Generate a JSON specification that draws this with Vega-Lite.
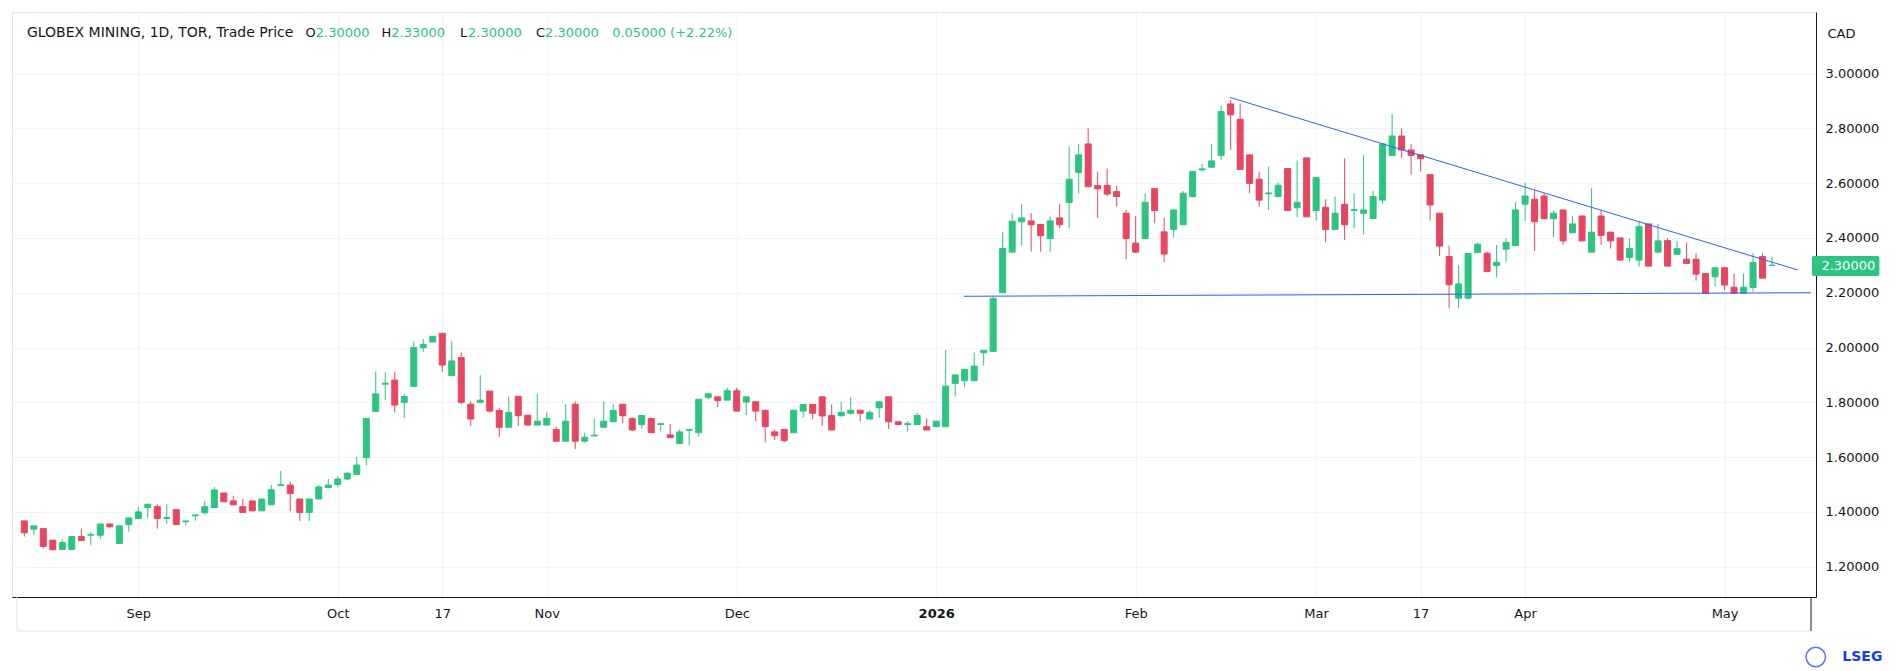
{
  "$schema": "https://vega.github.io/schema/vega-lite/v6.json",
  "width": 1804,
  "height": 585,
  "autosize": {"type": "none"},
  "padding": {"left": 12, "top": 12, "right": 87, "bottom": 74},
  "background": "#ffffff",
  "config": {
    "font": "DejaVu Sans",
    "view": {"stroke": "#e0e3eb"},
    "axis": {"labelFont": "DejaVu Sans", "labelFontSize": 13, "labelColor": "#131722", "gridColor": "#f0f3fa", "gridWidth": 1, "domainColor": "#131722", "ticks": false, "title": null}
  },
  "datasets": {
    "ohlc": [
      {"i":0,"o":1.367,"h":1.367,"l":1.310,"c":1.324},
      {"i":1,"o":1.337,"h":1.349,"l":1.316,"c":1.349},
      {"i":2,"o":1.339,"h":1.339,"l":1.267,"c":1.274},
      {"i":3,"o":1.297,"h":1.297,"l":1.260,"c":1.262},
      {"i":4,"o":1.263,"h":1.300,"l":1.262,"c":1.288},
      {"i":5,"o":1.263,"h":1.310,"l":1.263,"c":1.310},
      {"i":6,"o":1.310,"h":1.339,"l":1.296,"c":1.296},
      {"i":7,"o":1.315,"h":1.327,"l":1.278,"c":1.318},
      {"i":8,"o":1.315,"h":1.356,"l":1.300,"c":1.356},
      {"i":9,"o":1.356,"h":1.356,"l":1.340,"c":1.346},
      {"i":10,"o":1.285,"h":1.349,"l":1.285,"c":1.349},
      {"i":11,"o":1.354,"h":1.378,"l":1.328,"c":1.378},
      {"i":12,"o":1.376,"h":1.419,"l":1.376,"c":1.400},
      {"i":13,"o":1.416,"h":1.428,"l":1.378,"c":1.428},
      {"i":14,"o":1.419,"h":1.428,"l":1.339,"c":1.376},
      {"i":15,"o":1.376,"h":1.428,"l":1.357,"c":1.380},
      {"i":16,"o":1.408,"h":1.408,"l":1.354,"c":1.354},
      {"i":17,"o":1.364,"h":1.367,"l":1.351,"c":1.367},
      {"i":18,"o":1.386,"h":1.389,"l":1.368,"c":1.389},
      {"i":19,"o":1.397,"h":1.441,"l":1.390,"c":1.419},
      {"i":20,"o":1.416,"h":1.491,"l":1.416,"c":1.480},
      {"i":21,"o":1.469,"h":1.469,"l":1.437,"c":1.437},
      {"i":22,"o":1.440,"h":1.459,"l":1.426,"c":1.426},
      {"i":23,"o":1.419,"h":1.447,"l":1.398,"c":1.398},
      {"i":24,"o":1.440,"h":1.440,"l":1.402,"c":1.404},
      {"i":25,"o":1.404,"h":1.447,"l":1.404,"c":1.447},
      {"i":26,"o":1.426,"h":1.498,"l":1.426,"c":1.481},
      {"i":27,"o":1.496,"h":1.550,"l":1.496,"c":1.499},
      {"i":28,"o":1.498,"h":1.511,"l":1.402,"c":1.467},
      {"i":29,"o":1.447,"h":1.447,"l":1.367,"c":1.398},
      {"i":30,"o":1.398,"h":1.447,"l":1.367,"c":1.447},
      {"i":31,"o":1.447,"h":1.498,"l":1.447,"c":1.491},
      {"i":32,"o":1.489,"h":1.520,"l":1.489,"c":1.498},
      {"i":33,"o":1.500,"h":1.530,"l":1.490,"c":1.520},
      {"i":34,"o":1.520,"h":1.545,"l":1.515,"c":1.541},
      {"i":35,"o":1.537,"h":1.601,"l":1.535,"c":1.571},
      {"i":36,"o":1.598,"h":1.741,"l":1.571,"c":1.741},
      {"i":37,"o":1.767,"h":1.912,"l":1.767,"c":1.831},
      {"i":38,"o":1.866,"h":1.912,"l":1.808,"c":1.870},
      {"i":39,"o":1.881,"h":1.912,"l":1.763,"c":1.790},
      {"i":40,"o":1.800,"h":1.831,"l":1.742,"c":1.821},
      {"i":41,"o":1.858,"h":2.023,"l":1.858,"c":2.000},
      {"i":42,"o":1.999,"h":2.031,"l":1.984,"c":2.011},
      {"i":43,"o":2.020,"h":2.041,"l":2.020,"c":2.041},
      {"i":44,"o":2.052,"h":2.052,"l":1.911,"c":1.936},
      {"i":45,"o":1.897,"h":2.023,"l":1.897,"c":1.951},
      {"i":46,"o":1.963,"h":1.982,"l":1.793,"c":1.800},
      {"i":47,"o":1.793,"h":1.803,"l":1.714,"c":1.739},
      {"i":48,"o":1.800,"h":1.899,"l":1.800,"c":1.808},
      {"i":49,"o":1.841,"h":1.841,"l":1.763,"c":1.768},
      {"i":50,"o":1.770,"h":1.780,"l":1.674,"c":1.709},
      {"i":51,"o":1.709,"h":1.821,"l":1.709,"c":1.763},
      {"i":52,"o":1.822,"h":1.822,"l":1.714,"c":1.751},
      {"i":53,"o":1.753,"h":1.753,"l":1.714,"c":1.717},
      {"i":54,"o":1.717,"h":1.831,"l":1.717,"c":1.731},
      {"i":55,"o":1.717,"h":1.763,"l":1.717,"c":1.741},
      {"i":56,"o":1.701,"h":1.711,"l":1.658,"c":1.658},
      {"i":57,"o":1.658,"h":1.793,"l":1.658,"c":1.731},
      {"i":58,"o":1.793,"h":1.803,"l":1.629,"c":1.658},
      {"i":59,"o":1.658,"h":1.689,"l":1.653,"c":1.672},
      {"i":60,"o":1.677,"h":1.741,"l":1.677,"c":1.680},
      {"i":61,"o":1.709,"h":1.803,"l":1.709,"c":1.731},
      {"i":62,"o":1.729,"h":1.793,"l":1.729,"c":1.770},
      {"i":63,"o":1.793,"h":1.793,"l":1.723,"c":1.751},
      {"i":64,"o":1.741,"h":1.745,"l":1.695,"c":1.699},
      {"i":65,"o":1.719,"h":1.752,"l":1.703,"c":1.752},
      {"i":66,"o":1.741,"h":1.741,"l":1.689,"c":1.689},
      {"i":67,"o":1.719,"h":1.722,"l":1.693,"c":1.722},
      {"i":68,"o":1.681,"h":1.721,"l":1.671,"c":1.671},
      {"i":69,"o":1.650,"h":1.701,"l":1.650,"c":1.692},
      {"i":70,"o":1.698,"h":1.701,"l":1.643,"c":1.701},
      {"i":71,"o":1.689,"h":1.811,"l":1.675,"c":1.811},
      {"i":72,"o":1.818,"h":1.831,"l":1.811,"c":1.831},
      {"i":73,"o":1.820,"h":1.820,"l":1.782,"c":1.806},
      {"i":74,"o":1.808,"h":1.853,"l":1.808,"c":1.842},
      {"i":75,"o":1.842,"h":1.853,"l":1.765,"c":1.768},
      {"i":76,"o":1.801,"h":1.820,"l":1.753,"c":1.820},
      {"i":77,"o":1.802,"h":1.802,"l":1.731,"c":1.768},
      {"i":78,"o":1.771,"h":1.771,"l":1.654,"c":1.711},
      {"i":79,"o":1.692,"h":1.701,"l":1.662,"c":1.678},
      {"i":80,"o":1.701,"h":1.701,"l":1.653,"c":1.660},
      {"i":81,"o":1.689,"h":1.771,"l":1.689,"c":1.771},
      {"i":82,"o":1.768,"h":1.792,"l":1.744,"c":1.792},
      {"i":83,"o":1.792,"h":1.792,"l":1.739,"c":1.760},
      {"i":84,"o":1.820,"h":1.820,"l":1.714,"c":1.750},
      {"i":85,"o":1.752,"h":1.792,"l":1.699,"c":1.699},
      {"i":86,"o":1.751,"h":1.802,"l":1.748,"c":1.763},
      {"i":87,"o":1.760,"h":1.820,"l":1.755,"c":1.771},
      {"i":88,"o":1.771,"h":1.771,"l":1.731,"c":1.760},
      {"i":89,"o":1.739,"h":1.771,"l":1.739,"c":1.763},
      {"i":90,"o":1.780,"h":1.802,"l":1.744,"c":1.802},
      {"i":91,"o":1.820,"h":1.820,"l":1.703,"c":1.729},
      {"i":92,"o":1.729,"h":1.729,"l":1.719,"c":1.719},
      {"i":93,"o":1.719,"h":1.731,"l":1.693,"c":1.722},
      {"i":94,"o":1.719,"h":1.762,"l":1.719,"c":1.752},
      {"i":95,"o":1.711,"h":1.741,"l":1.699,"c":1.699},
      {"i":96,"o":1.711,"h":1.731,"l":1.711,"c":1.731},
      {"i":97,"o":1.711,"h":1.991,"l":1.711,"c":1.859},
      {"i":98,"o":1.869,"h":1.900,"l":1.821,"c":1.900},
      {"i":99,"o":1.879,"h":1.920,"l":1.855,"c":1.920},
      {"i":100,"o":1.879,"h":1.982,"l":1.879,"c":1.932},
      {"i":101,"o":1.981,"h":1.990,"l":1.934,"c":1.990},
      {"i":102,"o":1.986,"h":2.189,"l":1.986,"c":2.179},
      {"i":103,"o":2.200,"h":2.422,"l":2.200,"c":2.361},
      {"i":104,"o":2.348,"h":2.490,"l":2.348,"c":2.461},
      {"i":105,"o":2.459,"h":2.523,"l":2.372,"c":2.473},
      {"i":106,"o":2.462,"h":2.490,"l":2.350,"c":2.448},
      {"i":107,"o":2.449,"h":2.449,"l":2.350,"c":2.408},
      {"i":108,"o":2.398,"h":2.478,"l":2.350,"c":2.462},
      {"i":109,"o":2.473,"h":2.523,"l":2.435,"c":2.448},
      {"i":110,"o":2.529,"h":2.731,"l":2.435,"c":2.614},
      {"i":111,"o":2.639,"h":2.743,"l":2.563,"c":2.703},
      {"i":112,"o":2.743,"h":2.800,"l":2.585,"c":2.587},
      {"i":113,"o":2.591,"h":2.642,"l":2.474,"c":2.579},
      {"i":114,"o":2.591,"h":2.653,"l":2.553,"c":2.560},
      {"i":115,"o":2.569,"h":2.591,"l":2.514,"c":2.551},
      {"i":116,"o":2.490,"h":2.502,"l":2.322,"c":2.398},
      {"i":117,"o":2.381,"h":2.480,"l":2.345,"c":2.348},
      {"i":118,"o":2.398,"h":2.563,"l":2.398,"c":2.530},
      {"i":119,"o":2.580,"h":2.580,"l":2.453,"c":2.500},
      {"i":120,"o":2.422,"h":2.473,"l":2.312,"c":2.341},
      {"i":121,"o":2.431,"h":2.502,"l":2.401,"c":2.502},
      {"i":122,"o":2.448,"h":2.571,"l":2.448,"c":2.563},
      {"i":123,"o":2.551,"h":2.645,"l":2.548,"c":2.642},
      {"i":124,"o":2.648,"h":2.670,"l":2.642,"c":2.652},
      {"i":125,"o":2.658,"h":2.743,"l":2.658,"c":2.681},
      {"i":126,"o":2.701,"h":2.882,"l":2.683,"c":2.861},
      {"i":127,"o":2.889,"h":2.903,"l":2.721,"c":2.849},
      {"i":128,"o":2.833,"h":2.891,"l":2.648,"c":2.650},
      {"i":129,"o":2.703,"h":2.703,"l":2.563,"c":2.599},
      {"i":130,"o":2.614,"h":2.642,"l":2.514,"c":2.538},
      {"i":131,"o":2.561,"h":2.660,"l":2.502,"c":2.564},
      {"i":132,"o":2.551,"h":2.601,"l":2.551,"c":2.592},
      {"i":133,"o":2.653,"h":2.653,"l":2.500,"c":2.500},
      {"i":134,"o":2.510,"h":2.682,"l":2.475,"c":2.530},
      {"i":135,"o":2.692,"h":2.692,"l":2.477,"c":2.477},
      {"i":136,"o":2.500,"h":2.620,"l":2.463,"c":2.620},
      {"i":137,"o":2.512,"h":2.541,"l":2.384,"c":2.431},
      {"i":138,"o":2.431,"h":2.551,"l":2.431,"c":2.490},
      {"i":139,"o":2.523,"h":2.690,"l":2.392,"c":2.448},
      {"i":140,"o":2.500,"h":2.563,"l":2.435,"c":2.503},
      {"i":141,"o":2.490,"h":2.703,"l":2.413,"c":2.502},
      {"i":142,"o":2.471,"h":2.571,"l":2.471,"c":2.551},
      {"i":143,"o":2.538,"h":2.743,"l":2.526,"c":2.743},
      {"i":144,"o":2.701,"h":2.852,"l":2.701,"c":2.772},
      {"i":145,"o":2.772,"h":2.800,"l":2.692,"c":2.721},
      {"i":146,"o":2.721,"h":2.743,"l":2.631,"c":2.701},
      {"i":147,"o":2.703,"h":2.703,"l":2.642,"c":2.689},
      {"i":148,"o":2.631,"h":2.631,"l":2.463,"c":2.520},
      {"i":149,"o":2.490,"h":2.490,"l":2.334,"c":2.370},
      {"i":150,"o":2.332,"h":2.372,"l":2.143,"c":2.229},
      {"i":151,"o":2.180,"h":2.301,"l":2.143,"c":2.232},
      {"i":152,"o":2.180,"h":2.345,"l":2.178,"c":2.343},
      {"i":153,"o":2.347,"h":2.383,"l":2.347,"c":2.377},
      {"i":154,"o":2.344,"h":2.350,"l":2.277,"c":2.277},
      {"i":155,"o":2.299,"h":2.374,"l":2.256,"c":2.311},
      {"i":156,"o":2.359,"h":2.399,"l":2.313,"c":2.383},
      {"i":157,"o":2.372,"h":2.530,"l":2.370,"c":2.502},
      {"i":158,"o":2.523,"h":2.601,"l":2.463,"c":2.553},
      {"i":159,"o":2.541,"h":2.577,"l":2.352,"c":2.459},
      {"i":160,"o":2.553,"h":2.563,"l":2.470,"c":2.470},
      {"i":161,"o":2.470,"h":2.500,"l":2.402,"c":2.490},
      {"i":162,"o":2.502,"h":2.502,"l":2.374,"c":2.389},
      {"i":163,"o":2.419,"h":2.480,"l":2.419,"c":2.451},
      {"i":164,"o":2.480,"h":2.480,"l":2.389,"c":2.389},
      {"i":165,"o":2.348,"h":2.581,"l":2.348,"c":2.421},
      {"i":166,"o":2.480,"h":2.500,"l":2.374,"c":2.409},
      {"i":167,"o":2.421,"h":2.421,"l":2.361,"c":2.389},
      {"i":168,"o":2.400,"h":2.400,"l":2.319,"c":2.319},
      {"i":169,"o":2.329,"h":2.399,"l":2.313,"c":2.361},
      {"i":170,"o":2.319,"h":2.459,"l":2.295,"c":2.441},
      {"i":171,"o":2.451,"h":2.451,"l":2.297,"c":2.297},
      {"i":172,"o":2.348,"h":2.451,"l":2.348,"c":2.389},
      {"i":173,"o":2.390,"h":2.399,"l":2.297,"c":2.297},
      {"i":174,"o":2.340,"h":2.389,"l":2.340,"c":2.361},
      {"i":175,"o":2.322,"h":2.383,"l":2.307,"c":2.307},
      {"i":176,"o":2.322,"h":2.344,"l":2.244,"c":2.268},
      {"i":177,"o":2.270,"h":2.270,"l":2.198,"c":2.198},
      {"i":178,"o":2.258,"h":2.291,"l":2.222,"c":2.291},
      {"i":179,"o":2.291,"h":2.295,"l":2.210,"c":2.228},
      {"i":180,"o":2.220,"h":2.270,"l":2.198,"c":2.198},
      {"i":181,"o":2.198,"h":2.270,"l":2.198,"c":2.220},
      {"i":182,"o":2.219,"h":2.344,"l":2.204,"c":2.310},
      {"i":183,"o":2.332,"h":2.344,"l":2.253,"c":2.253},
      {"i":184,"o":2.300,"h":2.330,"l":2.300,"c":2.300}
    ],
    "lines": [
      {"line":"resistance","i":126.9,"p":2.913},
      {"line":"resistance","i":186.7,"p":2.283},
      {"line":"support","i":98.9,"p":2.187},
      {"line":"support","i":188.1,"p":2.200}
    ],
    "one": [{}]
  },
  "layer": [
    {
      "data": {"name": "ohlc"},
      "mark": {"type": "rule", "strokeWidth": 1},
      "encoding": {
        "x": {"field": "i", "type": "quantitative",
          "scale": {"domain": [-0.77, 188.1], "nice": false, "zero": false},
          "axis": {
            "values": [12, 33, 44, 55, 75, 96, 117, 136, 147, 158, 179],
            "labelExpr": "datum.value==12?'Sep':datum.value==33?'Oct':datum.value==44?'17':datum.value==55?'Nov':datum.value==75?'Dec':datum.value==96?'2026':datum.value==117?'Feb':datum.value==136?'Mar':datum.value==147?'17':datum.value==158?'Apr':'May'",
            "labelFontWeight": {"condition": {"test": "datum.value == 96", "value": "bold"}, "value": "normal"},
            "labelPadding": 10, "grid": true, "domain": true, "labelFlush": false
          }},
        "y": {"field": "l", "type": "quantitative",
          "scale": {"domain": [1.0894, 3.2245], "nice": false, "zero": false},
          "axis": {"orient": "right", "values": [1.2, 1.4, 1.6, 1.8, 2.0, 2.2, 2.4, 2.6, 2.8, 3.0], "format": ".5f", "labelPadding": 9, "grid": true, "domain": true, "labelBaseline": "middle"}},
        "y2": {"field": "h"},
        "color": {"condition": {"test": "datum.c >= datum.o", "value": "#2cc480"}, "value": "#e74661"}
      }
    },
    {
      "data": {"name": "ohlc"},
      "mark": {"type": "bar", "size": 6, "strokeWidth": 1},
      "encoding": {
        "x": {"field": "i", "type": "quantitative"},
        "y": {"field": "o", "type": "quantitative"},
        "y2": {"field": "c"},
        "color": {"condition": {"test": "datum.c >= datum.o", "value": "#2cc480"}, "value": "#e74661"},
        "stroke": {"condition": {"test": "datum.c >= datum.o", "value": "#2cc480"}, "value": "#e74661"}
      }
    },
    {
      "data": {"name": "lines"},
      "mark": {"type": "line", "color": "#2962ff", "strokeWidth": 1},
      "encoding": {
        "x": {"field": "i", "type": "quantitative"},
        "y": {"field": "p", "type": "quantitative"},
        "detail": {"field": "line"}
      }
    },
    {
      "data": {"name": "one"},
      "mark": {"type": "rule", "color": "#e0e3eb", "clip": false},
      "encoding": {"x": {"datum": -0.77}, "x2": {"datum": 188.1}, "y": {"datum": 0.9653}}
    },
    {
      "data": {"name": "one"},
      "mark": {"type": "rule", "color": "#e0e3eb", "clip": false},
      "encoding": {"x": {"datum": -0.77}, "y": {"datum": 1.0894}, "y2": {"datum": 0.9653}}
    },
    {
      "data": {"name": "one"},
      "mark": {"type": "rule", "color": "#131722", "clip": false},
      "encoding": {"x": {"datum": 188.1}, "y": {"datum": 1.0894}, "y2": {"datum": 0.9653}}
    },
    {
      "data": {"name": "one"},
      "mark": {"type": "text", "text": "GLOBEX MINING, 1D, TOR, Trade Price", "align": "left", "baseline": "middle", "fontSize": 14, "color": "#131722", "clip": false},
      "encoding": {"x": {"datum": 0.277}, "y": {"datum": 3.1485}}
    },
    {
      "data": {"name": "one"},
      "mark": {"type": "text", "text": "O", "align": "left", "baseline": "middle", "fontSize": 13, "color": "#131722"},
      "encoding": {"x": {"datum": 29.61}, "y": {"datum": 3.1485}}
    },
    {
      "data": {"name": "one"},
      "mark": {"type": "text", "text": "2.30000", "align": "left", "baseline": "middle", "fontSize": 13, "color": "#2cc480"},
      "encoding": {"x": {"datum": 30.68}, "y": {"datum": 3.1485}}
    },
    {
      "data": {"name": "one"},
      "mark": {"type": "text", "text": "H", "align": "left", "baseline": "middle", "fontSize": 13, "color": "#131722"},
      "encoding": {"x": {"datum": 37.61}, "y": {"datum": 3.1485}}
    },
    {
      "data": {"name": "one"},
      "mark": {"type": "text", "text": "2.33000", "align": "left", "baseline": "middle", "fontSize": 13, "color": "#2cc480"},
      "encoding": {"x": {"datum": 38.64}, "y": {"datum": 3.1485}}
    },
    {
      "data": {"name": "one"},
      "mark": {"type": "text", "text": "L", "align": "left", "baseline": "middle", "fontSize": 13, "color": "#131722"},
      "encoding": {"x": {"datum": 45.87}, "y": {"datum": 3.1485}}
    },
    {
      "data": {"name": "one"},
      "mark": {"type": "text", "text": "2.30000", "align": "left", "baseline": "middle", "fontSize": 13, "color": "#2cc480"},
      "encoding": {"x": {"datum": 46.72}, "y": {"datum": 3.1485}}
    },
    {
      "data": {"name": "one"},
      "mark": {"type": "text", "text": "C", "align": "left", "baseline": "middle", "fontSize": 13, "color": "#131722"},
      "encoding": {"x": {"datum": 53.88}, "y": {"datum": 3.1485}}
    },
    {
      "data": {"name": "one"},
      "mark": {"type": "text", "text": "2.30000", "align": "left", "baseline": "middle", "fontSize": 13, "color": "#2cc480"},
      "encoding": {"x": {"datum": 54.83}, "y": {"datum": 3.1485}}
    },
    {
      "data": {"name": "one"},
      "mark": {"type": "text", "text": "0.05000 (+2.22%)", "align": "left", "baseline": "middle", "fontSize": 13, "color": "#2cc480"},
      "encoding": {"x": {"datum": 61.89}, "y": {"datum": 3.1485}}
    },
    {
      "data": {"name": "one"},
      "mark": {"type": "rect", "color": "#2cc480", "cornerRadius": 2, "clip": false},
      "encoding": {"x": {"datum": 188.2}, "x2": {"datum": 195.3}, "y": {"datum": 2.334}, "y2": {"datum": 2.261}}
    },
    {
      "data": {"name": "one"},
      "mark": {"type": "text", "text": "2.30000", "align": "left", "baseline": "middle", "fontSize": 13, "color": "#ffffff", "clip": false},
      "encoding": {"x": {"datum": 189.2}, "y": {"datum": 2.2975}}
    },
    {
      "data": {"name": "one"},
      "mark": {"type": "text", "text": "CAD", "align": "left", "baseline": "middle", "fontSize": 13, "color": "#131722", "clip": false},
      "encoding": {"x": {"datum": 189.83}, "y": {"datum": 3.144}}
    },
    {
      "data": {"name": "one"},
      "mark": {"type": "point", "shape": "circle", "filled": false, "color": "#1a3cf0", "size": 380, "strokeWidth": 1.5, "clip": false},
      "encoding": {"x": {"datum": 188.6}, "y": {"datum": 0.8704}}
    },
    {
      "data": {"name": "one"},
      "mark": {"type": "text", "text": "LSEG", "align": "left", "baseline": "middle", "fontSize": 14, "fontWeight": "bold", "color": "#1a3cf0", "clip": false},
      "encoding": {"x": {"datum": 191.4}, "y": {"datum": 0.8704}}
    }
  ]
}
